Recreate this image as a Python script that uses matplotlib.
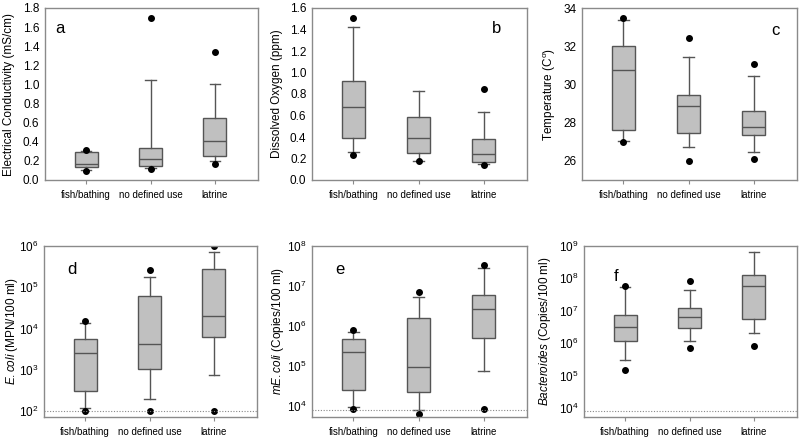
import numpy as np
import matplotlib
matplotlib.use("Agg")
import matplotlib.pyplot as plt
from matplotlib.ticker import LogLocator, LogFormatterSciNotation, NullLocator

plt.rcParams["font.family"] = ["Liberation Sans", "DejaVu Sans"]
plt.rcParams["mathtext.fontset"] = "custom"
plt.rcParams["mathtext.rm"] = "Liberation Sans"
plt.rcParams["mathtext.it"] = "Liberation Sans:italic"

groups = ["fish/bathing", "no defined use", "latrine"]

# per panel: q1, median, q3, whisker low, whisker high, outliers
ec_q1 = [0.14, 0.145, 0.25]
ec_med = [0.17, 0.22, 0.41]
ec_q3 = [0.29, 0.34, 0.65]
ec_lo = [0.10, 0.13, 0.20]
ec_hi = [0.30, 1.05, 1.00]
ec_out = [[0.31, 0.095], [1.70, 0.115], [1.34, 0.17]]

do_q1 = [0.395, 0.25, 0.17]
do_med = [0.68, 0.39, 0.245]
do_q3 = [0.92, 0.59, 0.38]
do_lo = [0.26, 0.18, 0.15]
do_hi = [1.42, 0.83, 0.635]
do_out = [[1.51, 0.235], [0.175], [0.845, 0.135]]

t_q1 = [27.63, 27.44, 27.37]
t_med = [30.77, 28.88, 27.75]
t_q3 = [32.03, 29.46, 28.63]
t_lo = [27.02, 26.74, 26.44]
t_hi = [33.35, 31.44, 30.42]
t_out = [[33.5, 26.97], [32.42, 25.97], [31.05, 26.12]]

ecoli_q1 = [305, 1025, 6100]
ecoli_med = [2600, 4200, 20500]
ecoli_q3 = [5460, 62500, 277000]
ecoli_lo = [116, 192, 733]
ecoli_hi = [13800, 181000, 730000]
ecoli_out = [[15000, 100], [262000, 100], [1.0e6, 100]]

mec_q1 = [25600, 22800, 515000]
mec_med = [230000, 96600, 2.59e6]
mec_q3 = [486000, 1.6e6, 6.04e6]
mec_lo = [9440, 8100, 76700]
mec_hi = [728000, 5.27e6, 2.76e7]
mec_out = [[787000, 8410], [7.05e6, 6430], [3.28e7, 8400]]

bac_q1 = [1.19e6, 2.85e6, 5.5e6]
bac_med = [3.13e6, 6.2e6, 6.0e7]
bac_q3 = [7.3e6, 1.26e7, 1.31e8]
bac_lo = [294000, 1.13e6, 2.04e6]
bac_hi = [5.33e7, 4.3e7, 6.4e8]
bac_out = [[6.0e7, 152000], [8.35e7, 689000], [794000]]

# detection limits (dotted lines)
lim_ecoli = 100
lim_mec = 8100
lim_bac = 7900

W, H = 800, 438
fig = plt.figure(figsize=(W / 100, H / 100), dpi=100)

def px_axes(l, r, t, b):
    return fig.add_axes([l / W, 1 - b / H, (r - l) / W, (b - t) / H])

edge = "#555555"
spine_c = "#8a8a8a"

def panel(ax, q1, med, q3, lo, hi, out, ylabel, labx, letter, lpos, ylim, log=False, limit=None):
    stats = []
    for i in range(3):
        stats.append(dict(q1=q1[i], med=med[i], q3=q3[i], whislo=lo[i],
                          whishi=hi[i], fliers=out[i], label=groups[i]))
    pos = [0.193, 0.496, 0.798]
    ax.bxp(stats, positions=pos, widths=0.108, capwidths=0.05,
           patch_artist=True, showfliers=True,
           boxprops=dict(facecolor="#c0c0c0", edgecolor=edge, linewidth=1.0),
           medianprops=dict(color=edge, linewidth=1.0),
           whiskerprops=dict(color=edge, linewidth=1.0),
           capprops=dict(color=edge, linewidth=1.0),
           flierprops=dict(marker="o", markerfacecolor="black",
                           markeredgecolor="black", markersize=4))
    if log:
        ax.set_yscale("log")
        ax.yaxis.set_major_locator(LogLocator(base=10, numticks=12))
        ax.yaxis.set_major_formatter(LogFormatterSciNotation())
        ax.yaxis.set_minor_locator(NullLocator())
    if limit is not None:
        ax.axhline(limit, color="#888888", linestyle=(0, (1, 1.5)), linewidth=0.8)
    ax.set_ylim(*ylim)
    ax.set_xlim(0, 1)
    ax.set_xticks(pos)
    ax.set_xticklabels(groups, fontsize=7)
    ax.tick_params(axis="x", length=3, color=spine_c, pad=4)
    ax.tick_params(axis="y", length=0, labelsize=8.5, pad=4)
    for s in ax.spines.values():
        s.set_color(spine_c)
        s.set_linewidth(1.0)
    ax.set_ylabel(ylabel, fontsize=8.5, va="center")
    ax.yaxis.set_label_coords(labx, 0.5)
    ax.text(lpos[0], lpos[1], letter, transform=ax.transAxes, fontsize=12,
            ha="center", va="center")

ax_a = px_axes(45, 258, 8, 180)
panel(ax_a, ec_q1, ec_med, ec_q3, ec_lo, ec_hi, ec_out,
      "Electrical Conductivity (mS/cm)", -0.17, "a", (0.07, 0.88), (0, 1.8))
ax_a.set_yticks(np.arange(0, 1.81, 0.2))
ax_a.set_yticklabels([f"{v:.1f}" for v in np.arange(0, 1.81, 0.2)])

ax_b = px_axes(312, 527, 8, 180)
panel(ax_b, do_q1, do_med, do_q3, do_lo, do_hi, do_out,
      "Dissolved Oxygen (ppm)", -0.163, "b", (0.86, 0.88), (0, 1.6))
ax_b.set_yticks(np.arange(0, 1.61, 0.2))
ax_b.set_yticklabels([f"{v:.1f}" for v in np.arange(0, 1.61, 0.2)])

ax_c = px_axes(582, 797, 8, 180)
panel(ax_c, t_q1, t_med, t_q3, t_lo, t_hi, t_out,
      "Temperature (C$^{\\mathrm{o}}$)", -0.149, "c", (0.9, 0.87), (25, 34))
ax_c.set_yticks([26, 28, 30, 32, 34])

ax_d = px_axes(44, 257, 246, 417)
panel(ax_d, ecoli_q1, ecoli_med, ecoli_q3, ecoli_lo, ecoli_hi, ecoli_out,
      "$\\it{E. coli}$ (MPN/100 ml)", -0.15, "d", (0.13, 0.86), (72, 1e6),
      log=True, limit=lim_ecoli)

ax_e = px_axes(312, 527, 246, 417)
panel(ax_e, mec_q1, mec_med, mec_q3, mec_lo, mec_hi, mec_out,
      "$\\it{mE. coli}$ (Copies/100 ml)", -0.158, "e", (0.13, 0.86), (5300, 1e8),
      log=True, limit=lim_mec)

ax_f = px_axes(584, 797, 246, 417)
panel(ax_f, bac_q1, bac_med, bac_q3, bac_lo, bac_hi, bac_out,
      "$\\it{Bacteroides}$ (Copies/100 ml)", -0.183, "f", (0.15, 0.82), (5250, 1e9),
      log=True, limit=lim_bac)

fig.savefig("out.png", dpi=100, facecolor="white")
